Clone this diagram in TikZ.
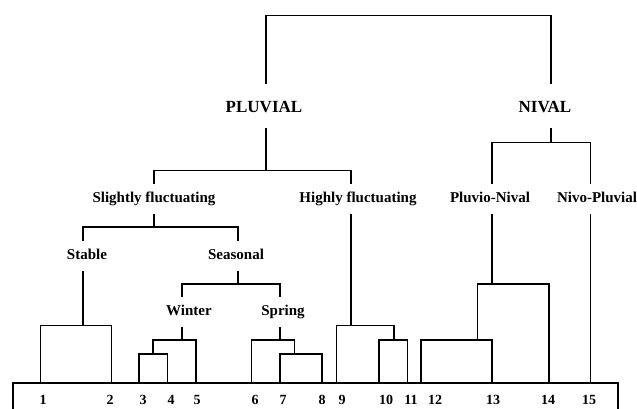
\documentclass[tikz,border=0pt]{standalone}
\usepackage{fontspec}
\setmainfont{Liberation Serif}
\usepackage{tikz}
\usetikzlibrary{positioning}
\tikzstyle{group}  = [font=\fontsize{17}{17}\selectfont\bfseries, text height=12pt,
                      text depth=0pt, inner xsep=0pt, inner ysep=16pt]
\tikzstyle{regime} = [font=\fontsize{15}{15}\selectfont\bfseries, text height=10.5pt,
                      text depth=3pt, inner xsep=0pt, inner ysep=8.5pt]
\tikzstyle{leaf}   = [font=\fontsize{14}{14}\selectfont\bfseries, inner sep=0pt]
\tikzstyle{branch} = [line width=1.1pt, black]

\begin{document}
\begin{tikzpicture}[x=1pt, y=-1pt]
    \useasboundingbox (0,0) rectangle (637,408);

    % ── Class labels ────────────────────────────────────────────────────────
    \node (pluv)   [group]  at (264,106) {PLUVIAL};
    \node (niv)    [group]  at (545,106) {NIVAL};
    \node (slight) [regime] at (154,199) {Slightly fluctuating};
    \node (high)   [regime] at (358,199) {Highly fluctuating};
    \node (pn)     [regime] at (490,199) {Pluvio-Nival};
    \node (np)     [regime] at (597,199) {Nivo-Pluvial};
    \node (stab)   [regime] at (87,256)  {Stable};
    \node (seas)   [regime] at (236,256) {Seasonal};
    \node (wint)   [regime] at (189,312) {Winter};
    \node (spr)    [regime] at (283,312) {Spring};

    % ── Stations ────────────────────────────────────────────────────────────
    \foreach \n/\x in {1/40.7, 2/111.7, 3/139, 4/167.7, 5/196, 6/251.7, 7/280,
                       8/322, 9/336.5, 10/379, 11/407.5, 12/421, 13/492,
                       14/549, 15/590.7}
        \coordinate (l\n) at (\x,383);
    \foreach \n/\x in {1/43, 2/110, 3/143, 4/171, 5/197, 6/255, 7/283, 8/322,
                       9/342, 10/386, 11/411, 12/435, 13/493, 14/548, 15/589}
        \node (n\n) [leaf] at (\x,400) {\n};

    % ── Junctions ───────────────────────────────────────────────────────────
    \coordinate (kTop)    at (408,15.7);
    \coordinate (kPluv)   at (266,170.7);
    \coordinate (kNiv)    at (551,142.7);
    \coordinate (kSlight) at (154,227);
    \coordinate (kHigh)   at (351,325.7);
    \coordinate (kPN)     at (492,284);
    \coordinate (kStab)   at (83,325.7);
    \coordinate (kSeas)   at (238,284);
    \coordinate (kWint)   at (182,340);
    \coordinate (kW34)    at (153,354);
    \coordinate (kSpr)    at (280,340);
    \coordinate (kS78)    at (294.7,354);
    \coordinate (kH1011)  at (394,340);
    \coordinate (kPN1213) at (477.7,340);

    % ── Upper branches ──────────────────────────────────────────────────────
    \draw [branch] (kPluv |- pluv.north) |- (kTop) -| (kNiv |- niv.north);
    \draw [branch] (kPluv |- pluv.south) -- (kPluv);
    \draw [branch] (kSlight |- slight.north) |- (kPluv) -| (kHigh |- high.north);
    \draw [branch] (kNiv |- niv.south) -- (kNiv);
    \draw [branch] (kPN |- pn.north) |- (kNiv) -| (l15 |- np.north);

    % ── Pluvial branches ────────────────────────────────────────────────────
    \draw [branch] (kSlight |- slight.south) -- (kSlight);
    \draw [branch] (kStab |- stab.north) |- (kSlight) -| (kSeas |- seas.north);
    \draw [branch] (kStab |- stab.south) -- (kStab);
    \draw [branch] (l1) |- (kStab) -| (l2);
    \draw [branch] (kSeas |- seas.south) -- (kSeas);
    \draw [branch] (kWint |- wint.north) |- (kSeas) -| (kSpr |- spr.north);
    \draw [branch] (kWint |- wint.south) -- (kWint);
    \draw [branch] (kW34) |- (kWint) -| (l5);
    \draw [branch] (l3) |- (kW34) -| (l4);
    \draw [branch] (kSpr |- spr.south) -- (kSpr);
    \draw [branch] (l6) |- (kSpr) -| (kS78);
    \draw [branch] (l7) |- (kS78) -| (l8);
    \draw [branch] (kHigh |- high.south) -- (kHigh);
    \draw [branch] (l9) |- (kHigh) -| (kH1011);
    \draw [branch] (l10) |- (kH1011) -| (l11);

    % ── Nival branches ──────────────────────────────────────────────────────
    \draw [branch] (kPN |- pn.south) -- (kPN);
    \draw [branch] (kPN1213) |- (kPN) -| (l14);
    \draw [branch] (l12) |- (kPN1213) -| (l13);
    \draw [branch] (l15 |- np.south) -- (l15);

    % ── Station frame ───────────────────────────────────────────────────────
    \draw [branch] (13,412) -- (13,383) -- (618,383) -- (618,412);

\end{tikzpicture}
\end{document}
